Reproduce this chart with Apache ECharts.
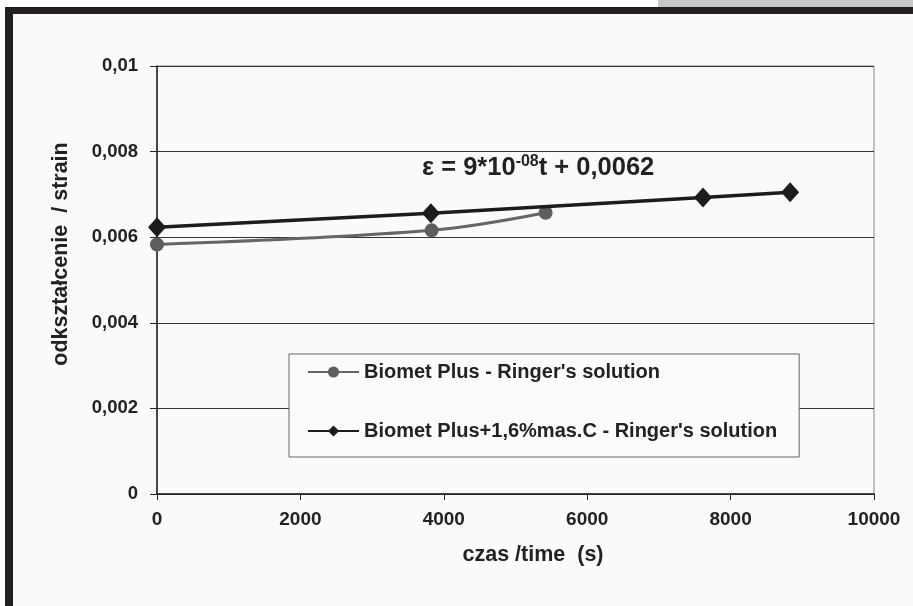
<!DOCTYPE html>
<html>
<head>
<meta charset="utf-8">
<script src="https://cdn.jsdelivr.net/npm/echarts@6/dist/echarts.min.js"></script>
<style>
html,body{margin:0;padding:0;background:#fff;}
#c{width:913px;height:606px;}
</style>
</head>
<body>
<div id="c"></div>
<script>
// Data
const seriesNames = ["Biomet Plus - Ringer's solution", "Biomet Plus+1,6%mas.C - Ringer's solution"];
const plusTime = [0, 3830, 5420];
const plusStrain = [0.00583, 0.00616, 0.00657];
const carbonTime = [0, 3820, 7615, 8830];
const carbonStrain = [0.00623, 0.00656, 0.00693, 0.00705];
const xTicks = [0, 2000, 4000, 6000, 8000, 10000];
const yTicks = [0, 0.002, 0.004, 0.006, 0.008, 0.01];
const xTitle = 'czas /time  (s)';
const yTitle = 'odkształcenie  / strain';
const equation = ['ε = 9*10', '-08', 't + 0,0062'];

const FONT = '"Liberation Sans", Arial, sans-serif';
const chart = echarts.init(document.getElementById('c'), null, {renderer: 'canvas'});

const fmtY = v => v === 0 ? '0' : String(+v.toFixed(3)).replace('.', ',');
const fmtX = v => String(Math.round(v));

chart.setOption({
  backgroundColor: '#fafafa',
  animation: false,
  grid: {left: 157, right: 39, top: 66, bottom: 112, show: true, borderColor: '#888', borderWidth: 1, backgroundColor: 'transparent'},
  xAxis: {
    type: 'value', min: xTicks[0], max: xTicks[xTicks.length - 1], interval: 2000,
    axisLine: {lineStyle: {color: '#222', width: 1.5}},
    axisTick: {show: true, length: 6, lineStyle: {color: '#222'}},
    axisLabel: {fontFamily: FONT, fontWeight: 'bold', fontSize: 19, color: '#222', margin: 16, formatter: fmtX},
    splitLine: {show: false}
  },
  yAxis: {
    type: 'value', min: yTicks[0], max: yTicks[yTicks.length - 1], interval: 0.002,
    axisLine: {show: true, lineStyle: {color: '#222', width: 1.5}},
    axisTick: {show: true, length: 7, lineStyle: {color: '#222'}},
    axisLabel: {fontFamily: FONT, fontWeight: 'bold', fontSize: 18.5, color: '#222', margin: 19, formatter: fmtY},
    splitLine: {show: true, lineStyle: {color: '#333', width: 1.2}}
  },
  legend: {
    orient: 'vertical', left: 289, top: 354,
    padding: [7, 22, 15, 18], itemGap: 37, itemWidth: 51, itemHeight: 14,
    backgroundColor: '#fbfbfb', borderColor: '#666', borderWidth: 1,
    textStyle: {fontFamily: FONT, fontWeight: 'bold', fontSize: 20, color: '#222', lineHeight: 22},
    data: seriesNames
  },
  series: [
    {
      name: seriesNames[0], type: 'line', smooth: 0.35,
      data: plusTime.map((t, i) => [t, plusStrain[i]]),
      symbol: 'circle', symbolSize: 14,
      lineStyle: {color: '#666', width: 3},
      itemStyle: {color: '#5e5e5e'},
      z: 2
    },
    {
      name: seriesNames[1], type: 'line',
      data: carbonTime.map((t, i) => [t, carbonStrain[i]]),
      symbol: 'diamond', symbolSize: [18, 20],
      lineStyle: {color: '#1c1c1c', width: 3.5},
      itemStyle: {color: '#1c1c1c'},
      z: 3
    }
  ],
  graphic: [
    {type: 'rect', shape: {x: 0, y: 0, width: 913, height: 7}, style: {fill: '#ffffff'}, silent: true, z: 100},
    {type: 'rect', shape: {x: 658, y: 0, width: 255, height: 7}, style: {fill: '#c8c8c8'}, silent: true, z: 100},
    {type: 'rect', shape: {x: 0, y: 0, width: 5, height: 606}, style: {fill: '#ffffff'}, silent: true, z: 100},
    {type: 'rect', shape: {x: 5, y: 7, width: 908, height: 7}, style: {fill: '#231f20'}, silent: true, z: 100},
    {type: 'rect', shape: {x: 5, y: 7, width: 8, height: 599}, style: {fill: '#231f20'}, silent: true, z: 100},
    {
      type: 'text', x: 61, y: 254, rotation: Math.PI / 2, z: 100,
      style: {text: yTitle, fontFamily: FONT, fontWeight: 'bold', fontSize: 21.5, fill: '#222', align: 'center', verticalAlign: 'middle'}
    },
    {
      type: 'text', x: 533, y: 555, z: 100,
      style: {text: xTitle, fontFamily: FONT, fontWeight: 'bold', fontSize: 21.5, fill: '#222', align: 'center', verticalAlign: 'middle'}
    },
    {
      type: 'text', x: 422, y: 168, z: 100,
      style: {
        text: '{m|' + equation[0] + '}{s|' + equation[1] + '}{m|' + equation[2] + '}',
        verticalAlign: 'middle',
        rich: {
          m: {fontFamily: FONT, fontWeight: 'bold', fontSize: 25.5, fill: '#222', lineHeight: 28},
          s: {fontFamily: FONT, fontWeight: 'bold', fontSize: 16, fill: '#222', verticalAlign: 'top', lineHeight: 28, padding: [0, 0, 14, 0]}
        }
      }
    }
  ]
});
</script>
</body>
</html>
